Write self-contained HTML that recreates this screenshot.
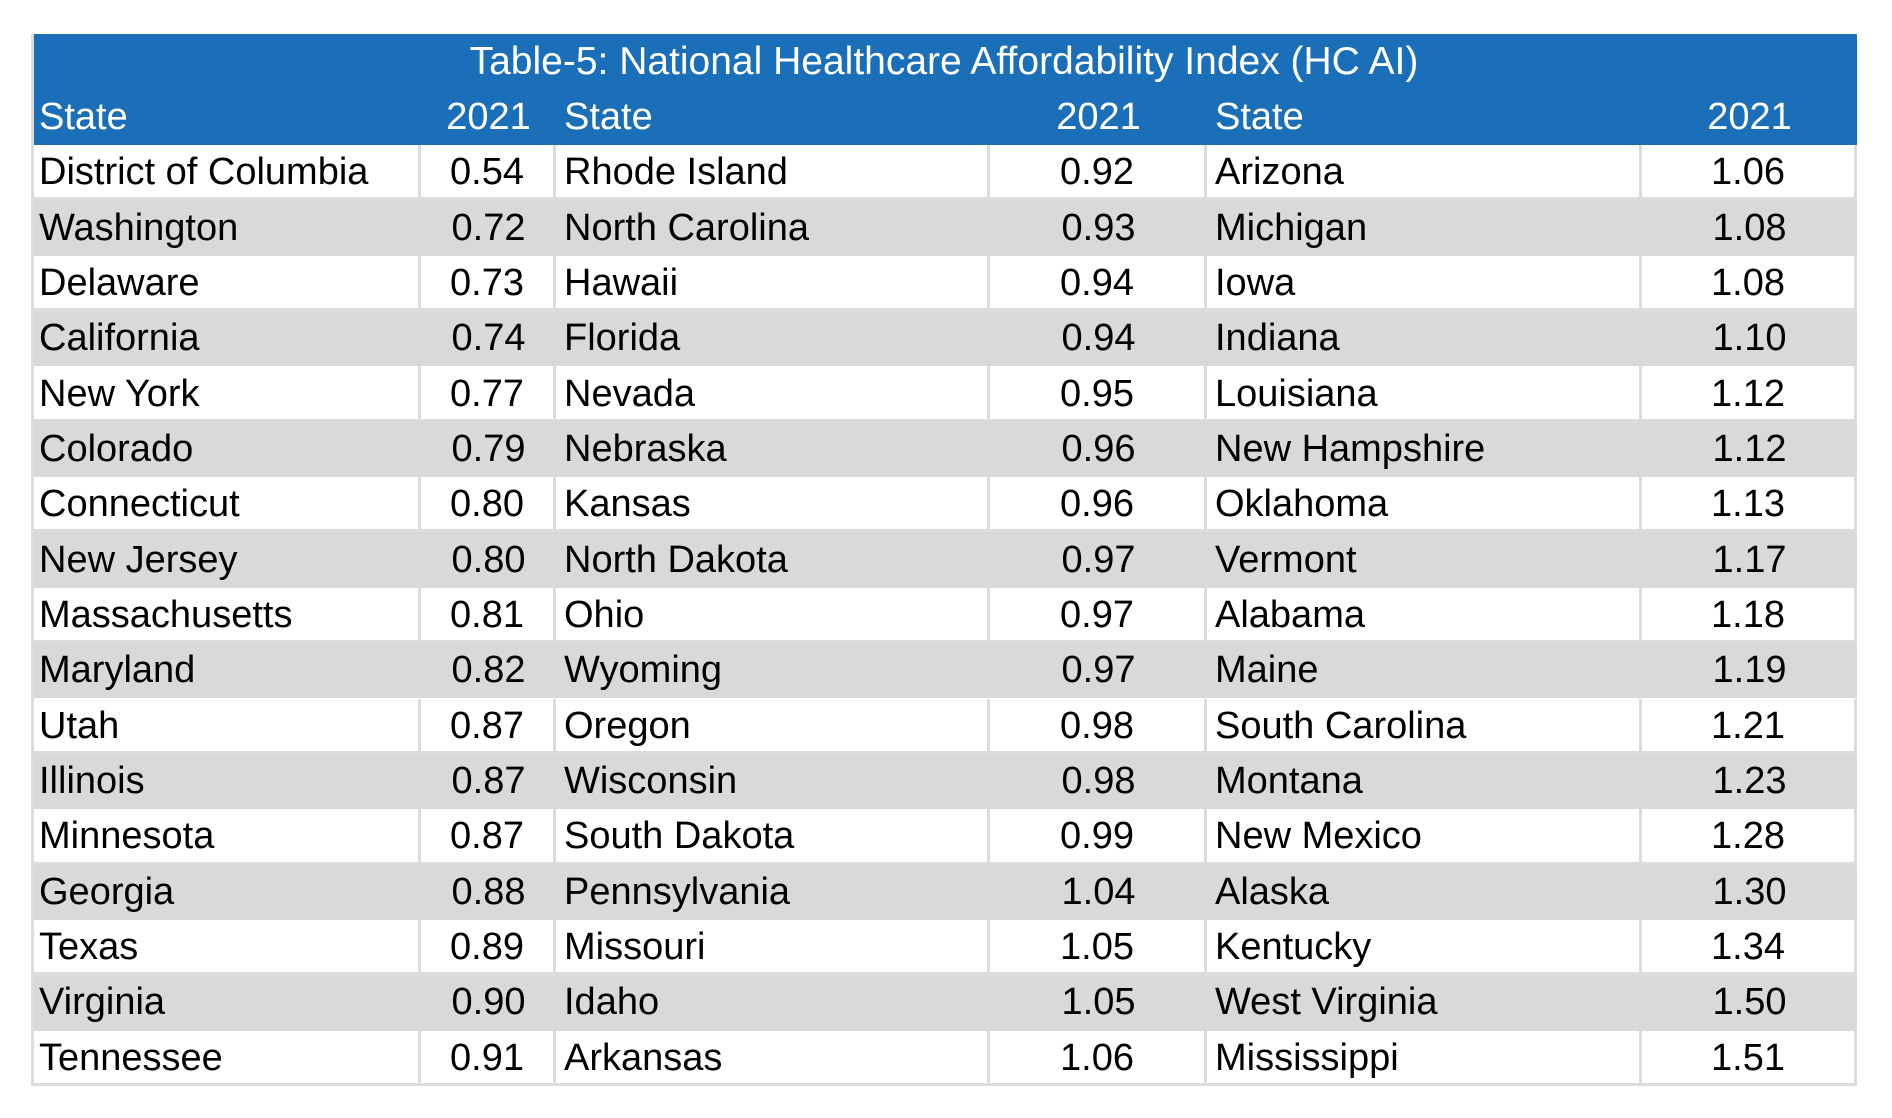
<!DOCTYPE html>
<html><head><meta charset="utf-8"><style>
body{margin:0;width:1892px;height:1118px;background:#fff;font-family:"Liberation Sans",sans-serif;position:relative;overflow:hidden}
.r{position:absolute;left:31px;width:1826px;height:55.35px}
.c{position:absolute;top:0;height:100%;display:flex;align-items:center;font-size:38px;letter-spacing:0;color:#000;box-sizing:border-box;white-space:nowrap}
.s{padding-left:8px}
.v{justify-content:center}
.w .c{border-right:3px solid #dcdcdc}
.g{background:#d9d9d9}
.h{background:#1a6fb8}
.h .c{color:#fff}
</style></head><body>
<div class="r h" style="top:34px;height:56px"><div class="c v" style="left:0;width:1826px;font-size:39px">Table-5: National Healthcare Affordability Index (HC AI)</div></div>
<div class="r h" style="top:89px;height:56px">
<div class="c s" style="left:0;width:390px">State</div><div class="c v" style="left:390px;width:135px">2021</div>
<div class="c s" style="left:525px;width:434px">State</div><div class="c v" style="left:959px;width:217px">2021</div>
<div class="c s" style="left:1176px;width:435px">State</div><div class="c v" style="left:1611px;width:215px">2021</div>
</div>
<div id="rows"></div>
<div style="position:absolute;left:31px;top:34px;width:3px;height:1052px;background:#dcdcdc"></div>
<div style="position:absolute;left:31px;top:1083px;width:1826px;height:3px;background:#dcdcdc"></div>
<script>
var d=[["District of Columbia","0.54","Rhode Island","0.92","Arizona","1.06"],["Washington","0.72","North Carolina","0.93","Michigan","1.08"],["Delaware","0.73","Hawaii","0.94","Iowa","1.08"],["California","0.74","Florida","0.94","Indiana","1.10"],["New York","0.77","Nevada","0.95","Louisiana","1.12"],["Colorado","0.79","Nebraska","0.96","New Hampshire","1.12"],["Connecticut","0.80","Kansas","0.96","Oklahoma","1.13"],["New Jersey","0.80","North Dakota","0.97","Vermont","1.17"],["Massachusetts","0.81","Ohio","0.97","Alabama","1.18"],["Maryland","0.82","Wyoming","0.97","Maine","1.19"],["Utah","0.87","Oregon","0.98","South Carolina","1.21"],["Illinois","0.87","Wisconsin","0.98","Montana","1.23"],["Minnesota","0.87","South Dakota","0.99","New Mexico","1.28"],["Georgia","0.88","Pennsylvania","1.04","Alaska","1.30"],["Texas","0.89","Missouri","1.05","Kentucky","1.34"],["Virginia","0.90","Idaho","1.05","West Virginia","1.50"],["Tennessee","0.91","Arkansas","1.06","Mississippi","1.51"]];
var L=[[0,390,"s"],[390,135,"v"],[525,434,"s"],[959,217,"v"],[1176,435,"s"],[1611,215,"v"]];
var h="";
d.forEach(function(r,i){h+='<div class="r '+(i%2?'g':'w')+'" style="top:'+(145+i*55.35)+'px">';
r.forEach(function(t,j){h+='<div class="c '+L[j][2]+'" style="left:'+L[j][0]+'px;width:'+L[j][1]+'px">'+t+'</div>';});
if(i%2==0)h+='<div style="position:absolute;left:0;bottom:0;width:1826px;height:3px;background:#dcdcdc"></div>';
h+='</div>';});
document.getElementById("rows").innerHTML=h;
</script>
</body></html>
